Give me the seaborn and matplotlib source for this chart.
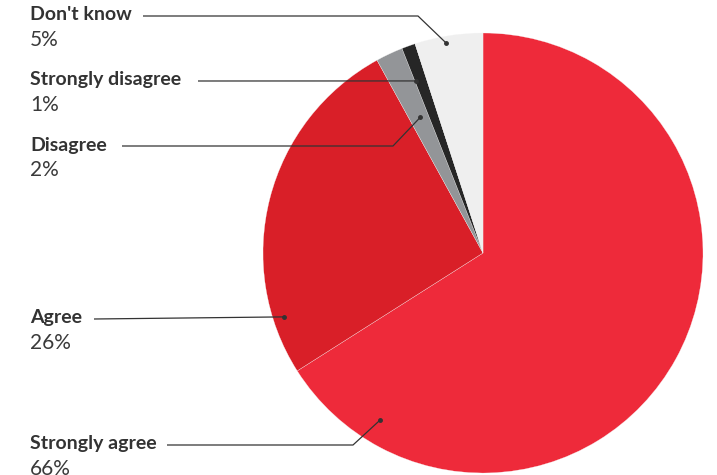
import numpy as np
import matplotlib.pyplot as plt
import seaborn as sns

# data
labels = ["Strongly agree", "Agree", "Disagree", "Strongly disagree", "Don't know"]
values = [66, 26, 2, 1, 5]
colors = ["#EE2A3A", "#D91F28", "#939598", "#262626", "#EFEFEF"]

sns.set_theme(style="white")
plt.rcParams['font.family'] = ['Lato', 'DejaVu Sans']

W, H = 717, 475
fig = plt.figure(figsize=(W / 100, H / 100), dpi=100)
ax = fig.add_axes([0, 0, 1, 1])

cx, cy, R = 483, H - 253, 220
wedges, _ = ax.pie(values, colors=colors, startangle=90, counterclock=False,
                   center=(cx, cy), radius=R, frame=True,
                   wedgeprops=dict(linewidth=0.2, edgecolor="#f6f6f6"))
ax.set_xlim(0, W)
ax.set_ylim(0, H)
ax.set_aspect("equal")
ax.axis("off")

# label layout (pixel rows from top), leader elbow x, dot position (angle ccw from top, radius fraction)
label_y = {"Don't know": 15, "Strongly disagree": 80, "Disagree": 145, "Agree": 318, "Strongly agree": 444}
line_x0 = {"Don't know": 143, "Strongly disagree": 198, "Disagree": 122, "Agree": 94, "Strongly agree": 167}
elbow_x = {"Don't know": 418, "Strongly disagree": None, "Disagree": 393, "Agree": None, "Strongly agree": 353}
dot_ang = {"Don't know": 10, "Strongly disagree": 21.4, "Disagree": 24.7, "Agree": 107.8, "Strongly agree": 148.4}
dot_r = {"Don't know": 0.97, "Strongly disagree": 0.84, "Disagree": 0.68, "Agree": 0.95, "Strongly agree": 0.89}

txt = "#333333"
for lab, v in zip(labels, values):
    y = H - label_y[lab]
    ax.text(30, y, lab, fontsize=14, fontweight="bold", color=txt, va="center", ha="left")
    ax.text(30, y - 25, f"{v}%", fontsize=15, color="#3a3a3a", va="center", ha="left")
    a = np.deg2rad(dot_ang[lab])
    dx = cx - R * dot_r[lab] * np.sin(a)
    dy = cy + R * dot_r[lab] * np.cos(a)
    ly = y - 1
    if elbow_x[lab] is None:
        xs, ys = [line_x0[lab], dx], [ly, dy]
    else:
        xs, ys = [line_x0[lab], elbow_x[lab], dx], [ly, ly, dy]
    ax.plot(xs, ys, color=txt, linewidth=0.9, solid_capstyle="butt")
    ax.plot(dx, dy, "o", color=txt, markersize=2.5)

fig.savefig("out.png", dpi=100)
